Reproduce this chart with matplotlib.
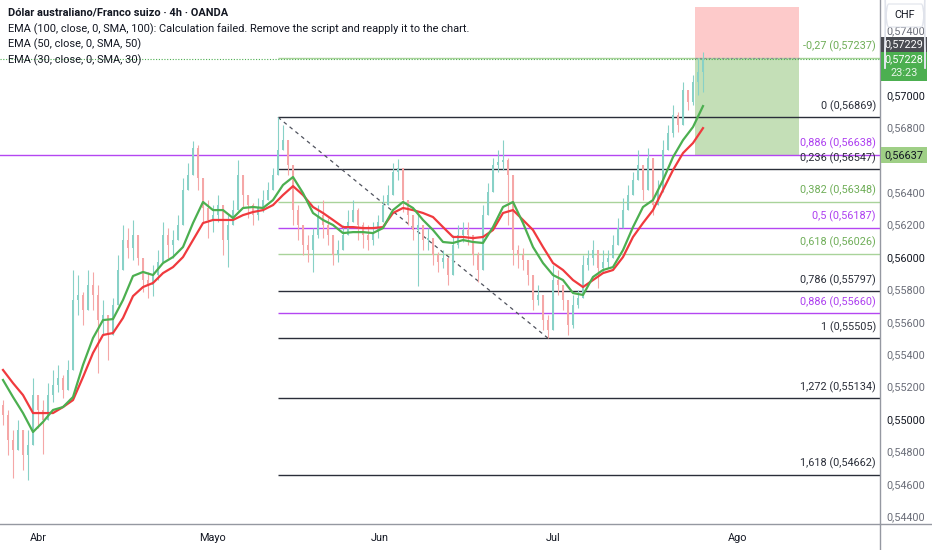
import numpy as np
import matplotlib
matplotlib.use("Agg")
import matplotlib.pyplot as plt
from matplotlib.patches import Rectangle, FancyBboxPatch

plt.rcParams["font.family"] = ["Roboto", "DejaVu Sans"]

# ----------------------------------------------------------------------
# data: AUD/CHF 4h (одна свеча ~ полдня)
# ----------------------------------------------------------------------
first_open = 0.55093
close = [
    0.55031, 0.54877, 0.54815, 0.54938, 0.54784, 0.54846, 0.55154, 0.55062, 0.55000, 0.55154,
    0.55216, 0.55259, 0.55185, 0.55309, 0.55741, 0.55772, 0.55679, 0.55833, 0.55772, 0.55617,
    0.55648, 0.55525, 0.55710, 0.55926, 0.56111, 0.56062, 0.56142, 0.56000, 0.55864, 0.55833,
    0.55895, 0.55975, 0.56142, 0.56080, 0.56111, 0.56204, 0.56420, 0.56512, 0.56679, 0.56494,
    0.56309, 0.56235, 0.56265, 0.56327, 0.56111, 0.56204, 0.56296, 0.56512, 0.56389, 0.56327,
    0.56265, 0.56309, 0.56358, 0.56420, 0.56512, 0.56667, 0.56728, 0.56574, 0.56296, 0.56204,
    0.56080, 0.56049, 0.56142, 0.56265, 0.56204, 0.56142, 0.56019, 0.56049, 0.56142, 0.56222,
    0.56296, 0.56204, 0.56142, 0.56111, 0.56160, 0.56222, 0.56327, 0.56389, 0.56531, 0.56556,
    0.56358, 0.56265, 0.56173, 0.56204, 0.56111, 0.56123, 0.56019, 0.55975, 0.56000, 0.55895,
    0.56080, 0.56142, 0.56173, 0.56142, 0.56019, 0.55926, 0.56265, 0.56407, 0.56574, 0.56593,
    0.56605, 0.56512, 0.56049, 0.56019, 0.55988, 0.55895, 0.55741, 0.55772, 0.55617, 0.55556,
    0.55864, 0.55833, 0.55741, 0.55586, 0.55710, 0.55753, 0.55957, 0.56000, 0.56049, 0.55938,
    0.55975, 0.56000, 0.56080, 0.56185, 0.56296, 0.56389, 0.56481, 0.56574, 0.56420, 0.56617,
    0.56327, 0.56407, 0.56667, 0.56772, 0.56883, 0.56821, 0.57037, 0.56963, 0.57086, 0.57148,
    0.57228,
]
high = [
    0.55123, 0.55062, 0.54938, 0.55000, 0.54895, 0.54938, 0.55259, 0.55154, 0.55123, 0.55228,
    0.55309, 0.55340, 0.55278, 0.55370, 0.55926, 0.55895, 0.55790, 0.55926, 0.55914, 0.55833,
    0.55741, 0.55648, 0.55753, 0.56019, 0.56204, 0.56185, 0.56235, 0.56080, 0.55975, 0.55914,
    0.55957, 0.56049, 0.56222, 0.56185, 0.56173, 0.56265, 0.56494, 0.56586, 0.56722, 0.56698,
    0.56420, 0.56358, 0.56327, 0.56389, 0.56247, 0.56265, 0.56358, 0.56605, 0.56500, 0.56389,
    0.56340, 0.56370, 0.56420, 0.56469, 0.56556, 0.56869, 0.56821, 0.56716, 0.56481, 0.56327,
    0.56173, 0.56142, 0.56185, 0.56327, 0.56358, 0.56247, 0.56111, 0.56111, 0.56204, 0.56296,
    0.56358, 0.56309, 0.56222, 0.56204, 0.56222, 0.56265, 0.56389, 0.56451, 0.56586, 0.56611,
    0.56512, 0.56358, 0.56247, 0.56265, 0.56204, 0.56185, 0.56111, 0.56037, 0.56049, 0.56000,
    0.56142, 0.56204, 0.56222, 0.56222, 0.56123, 0.56037, 0.56327, 0.56463, 0.56617, 0.56667,
    0.56728, 0.56617, 0.56235, 0.56080, 0.56062, 0.55988, 0.55833, 0.55833, 0.55710, 0.55648,
    0.55957, 0.55926, 0.55833, 0.55691, 0.55772, 0.55802, 0.56019, 0.56049, 0.56111, 0.56037,
    0.56049, 0.56049, 0.56142, 0.56247, 0.56370, 0.56451, 0.56531, 0.56667, 0.56531, 0.56679,
    0.56512, 0.56481, 0.56728, 0.56821, 0.56944, 0.56901, 0.57086, 0.57025, 0.57130, 0.57235,
    0.57272,
]
low = [
    0.54969, 0.54784, 0.54642, 0.54815, 0.54691, 0.54630, 0.54846, 0.54951, 0.54790, 0.55031,
    0.55111, 0.55173, 0.55136, 0.55216, 0.55494, 0.55648, 0.55586, 0.55710, 0.55679, 0.55290,
    0.55525, 0.55370, 0.55605, 0.55741, 0.56019, 0.56000, 0.55988, 0.55957, 0.55790, 0.55753,
    0.55765, 0.55864, 0.56019, 0.56000, 0.56000, 0.56111, 0.56204, 0.56420, 0.56556, 0.56420,
    0.56222, 0.56123, 0.56160, 0.56222, 0.56019, 0.55944, 0.56222, 0.56358, 0.56309, 0.56247,
    0.56204, 0.56235, 0.56284, 0.56358, 0.56420, 0.56543, 0.56667, 0.56512, 0.56204, 0.56111,
    0.56019, 0.55975, 0.55914, 0.56123, 0.56123, 0.56080, 0.55957, 0.55975, 0.56062, 0.56142,
    0.56222, 0.56111, 0.56062, 0.56049, 0.56080, 0.56123, 0.56235, 0.56327, 0.56469, 0.56481,
    0.56284, 0.56204, 0.56111, 0.55827, 0.56049, 0.56049, 0.55957, 0.55914, 0.55938, 0.55833,
    0.55988, 0.56062, 0.56099, 0.56080, 0.55957, 0.55852, 0.56000, 0.56309, 0.56494, 0.56531,
    0.56543, 0.56204, 0.55957, 0.55938, 0.55926, 0.55833, 0.55679, 0.55710, 0.55556, 0.55505,
    0.55586, 0.55772, 0.55679, 0.55525, 0.55568, 0.55691, 0.55753, 0.55926, 0.55957, 0.55815,
    0.55914, 0.55938, 0.56000, 0.56099, 0.56222, 0.56309, 0.56407, 0.56494, 0.56358, 0.56543,
    0.56265, 0.56346, 0.56543, 0.56716, 0.56747, 0.56778, 0.56883, 0.56914, 0.56944, 0.57006,
    0.57025,
]

# EMA, по каждой второй свече
ema50 = [
    0.55309, 0.55228, 0.55154, 0.55043, 0.55043, 0.55043, 0.55080, 0.55123, 0.55265, 0.55414,
    0.55525, 0.55537, 0.55630, 0.55765, 0.55821, 0.55846, 0.55907, 0.55944, 0.56006, 0.56111,
    0.56216, 0.56235, 0.56235, 0.56235, 0.56265, 0.56284, 0.56296, 0.56327, 0.56389, 0.56444,
    0.56389, 0.56315, 0.56278, 0.56235, 0.56191, 0.56191, 0.56185, 0.56185, 0.56191, 0.56278,
    0.56309, 0.56296, 0.56278, 0.56253, 0.56191, 0.56130, 0.56130, 0.56123, 0.56130, 0.56173,
    0.56278, 0.56296, 0.56235, 0.56173, 0.56068, 0.55969, 0.55926, 0.55864, 0.55821, 0.55864,
    0.55907, 0.55926, 0.56006, 0.56130, 0.56216, 0.56296, 0.56420, 0.56543, 0.56648, 0.56710,
    0.56802,
]
ema30 = [
    0.55247, 0.55142, 0.55043, 0.54926, 0.54988, 0.55062, 0.55080, 0.55142, 0.55340, 0.55506,
    0.55617, 0.55623, 0.55741, 0.55889, 0.55914, 0.55895, 0.55969, 0.56006, 0.56068, 0.56216,
    0.56346, 0.56296, 0.56296, 0.56247, 0.56309, 0.56315, 0.56309, 0.56358, 0.56451, 0.56500,
    0.56401, 0.56278, 0.56235, 0.56204, 0.56154, 0.56160, 0.56160, 0.56154, 0.56185, 0.56296,
    0.56346, 0.56309, 0.56235, 0.56173, 0.56099, 0.56093, 0.56111, 0.56099, 0.56093, 0.56191,
    0.56315, 0.56346, 0.56216, 0.56068, 0.55969, 0.55895, 0.55864, 0.55784, 0.55772, 0.55883,
    0.55926, 0.55944, 0.56049, 0.56191, 0.56315, 0.56358, 0.56481, 0.56623, 0.56728, 0.56809,
    0.56938,
]

month_labels = ["Abr", "Mayo", "Jun", "Jul", "Ago"]
month_pos = [7, 41.8, 75.4, 110, 147]

fib_ratio = ["-0,27", "0", "0,236", "0,382", "0,5", "0,618", "0,786", "0,886", "1", "1,272", "1,618"]
fib_price = [0.57237, 0.56869, 0.56547, 0.56348, 0.56187, 0.56026, 0.55797, 0.55660, 0.55505, 0.55134, 0.54662]
fib_kind = ["g", "k", "k", "g", "p", "g", "k", "p", "k", "k", "k"]
fib_start = 55           # свеча с максимумом 0,56869
fib_end = 109            # свеча с минимумом 0,55505

hline_price = 0.56637
hline_ratio = "0,886"
hline_fib = 0.56638
last_price = 0.57228
ask_price = 0.57229
countdown = "23:23"
pos_x = (138.4, 159.2)
pos_stop, pos_entry, pos_target = 0.57549, 0.57237, 0.56637

# 0,57200 и 0,56600 закрыты метками цены
ticks = [0.544, 0.546, 0.548, 0.550, 0.552, 0.554, 0.556, 0.558, 0.560,
         0.562, 0.564, 0.568, 0.570, 0.574]

# ----------------------------------------------------------------------
# style
# ----------------------------------------------------------------------
UP, DOWN = "#88d1c7", "#f5a7a7"
FIBC = {"k": "#2a2e39", "g": "#a9d39a", "p": "#b446f2"}
FIBT = {"k": "#2a2e39", "g": "#6fae58", "p": "#ad3ff0"}
TXT = "#131722"
GRAY = "#6a6d78"
FS = 7.8
Y0, Y1 = 0.54358, 0.57593
X0, X1 = -0.6, 175.4
W, H = 932, 550
PANE_W, PANE_H = 880, 524
U = (Y1 - Y0) / PANE_H   # цена одного пикселя

fig = plt.figure(figsize=(W / 100, H / 100), dpi=100)
ax = fig.add_axes([0, (H - PANE_H) / H, PANE_W / W, PANE_H / H])
ax.set_xlim(X0, X1)
ax.set_ylim(Y0, Y1)
ax.set_xticks([])
ax.set_yticks([])
for s in ("top", "left", "bottom"):
    ax.spines[s].set_visible(False)
ax.spines["right"].set_color("#9598a1")
ax.spines["right"].set_linewidth(1)

# candles
c = np.array(close)
o = np.concatenate([[first_open], c[:-1]])
h = np.maximum(np.array(high), np.maximum(o, c))
l = np.minimum(np.array(low), np.minimum(o, c))
idx = np.arange(len(c))
col = np.where(c >= o, UP, DOWN)
ax.vlines(idx, l, h, colors=col, lw=0.8, zorder=3)
ax.bar(idx, np.maximum(np.abs(c - o), 0.00004), bottom=np.minimum(o, c),
       width=0.55, color=col, lw=0, zorder=3)

# EMA
ex = idx[::2]
ax.plot(ex, ema50, color="#f03a3e", lw=1.6, zorder=4, solid_joinstyle="round")
ax.plot(ex, ema30, color="#4caf50", lw=1.6, zorder=4, solid_joinstyle="round")

# fib levels
for r, p, k in zip(fib_ratio, fib_price, fib_kind):
    ax.hlines(p, fib_start, X1, color=FIBC[k], lw=1.0, zorder=2)
    ax.annotate(f"{r} ({p:.5f})".replace(".", ","), xy=(174.6, p), xytext=(0, 8),
                textcoords="offset points", ha="right", va="center",
                fontsize=FS, color=FIBT[k], zorder=5)

# full-width horizontal line + its label
ax.axhline(hline_price, color="#b446f2", lw=1.0, zorder=2)
ax.annotate(f"{hline_ratio} ({hline_fib:.5f})".replace(".", ","), xy=(174.6, hline_price),
            xytext=(0, 8), textcoords="offset points", ha="right", va="center",
            fontsize=FS, color=FIBT["p"], zorder=5)

# diagonal of the fib
ax.plot([fib_start, fib_end], [fib_price[1], fib_price[8]], color="#50535e",
        lw=0.9, ls=(0, (3, 3)), zorder=2)

# current price dotted line
ax.axhline(last_price, color="#4caf50", lw=0.8, ls=(0, (1, 1.5)), zorder=2)

# short position box
ax.add_patch(Rectangle((pos_x[0], pos_entry), pos_x[1] - pos_x[0], pos_stop - pos_entry,
                       fc="#fdcaca", ec="none", zorder=1))
ax.add_patch(Rectangle((pos_x[0], pos_target), pos_x[1] - pos_x[0], pos_entry - pos_target,
                       fc="#c4dfb7", ec="none", zorder=1))
ax.hlines(pos_entry, pos_x[0], pos_x[1], color="#8a8d96", lw=0.8, ls=(0, (2, 2)), zorder=2)

# ----------------------------------------------------------------------
# price axis
# ----------------------------------------------------------------------
yt = ax.get_yaxis_transform()
for t in ticks:
    dark = abs(t * 100 - round(t * 100)) < 1e-6
    ax.text(1.0068, t, f"{t:.5f}".replace(".", ","), transform=yt, ha="left", va="center",
            fontsize=FS, color=TXT if dark else GRAY, clip_on=False, zorder=6)

bx0, bw = 881 / PANE_W, 46 / PANE_W


def tag(y_top, hgt, fc):
    ax.add_patch(Rectangle((bx0, y_top - hgt * U), bw, hgt * U, transform=yt,
                           fc=fc, ec="none", clip_on=False, zorder=7))


tag(hline_price + 8 * U, 16, "#9fcf86")
ax.text(bx0 + bw / 2, hline_price, f"{hline_price:.5f}".replace(".", ","), transform=yt,
        ha="center", va="center", fontsize=FS, color=TXT, clip_on=False, zorder=8)

tag(last_price + 7 * U, 29, "#4caf50")
ax.text(bx0 + bw / 2, last_price, f"{last_price:.5f}".replace(".", ","), transform=yt,
        ha="center", va="center", fontsize=FS, color="white", clip_on=False, zorder=8)
ax.text(bx0 + bw / 2, last_price - 14 * U, countdown, transform=yt,
        ha="center", va="center", fontsize=FS, color="#e8f5e9", clip_on=False, zorder=8)

tag(last_price + 22 * U, 15, "#4a4c52")
ax.text(bx0 + bw / 2, last_price + 14.5 * U, f"{ask_price:.5f}".replace(".", ","), transform=yt,
        ha="center", va="center", fontsize=FS, color="white", clip_on=False, zorder=8)

chf = FancyBboxPatch((885 / PANE_W, Y1 - 27 * U), 40 / PANE_W, 23 * U,
                     boxstyle="round,pad=0,rounding_size=0.004", transform=yt,
                     fc="white", ec="#e0e3eb", lw=0.8, clip_on=False, zorder=7)
ax.add_patch(chf)
ax.text(905 / PANE_W, Y1 - 15.5 * U, "CHF", transform=yt, ha="center", va="center",
        fontsize=FS, color=TXT, clip_on=False, zorder=8)

# time axis
xt = ax.get_xaxis_transform()
for m, x in zip(month_labels, month_pos):
    ax.text(x, -14 / PANE_H, m, transform=xt, ha="center", va="center",
            fontsize=FS, color=TXT, clip_on=False)

fig.add_artist(plt.Line2D([0, 1], [(H - PANE_H) / H] * 2, color="#9598a1", lw=1,
                          transform=fig.transFigure))
fig.add_artist(plt.Line2D([PANE_W / W] * 2, [0, (H - PANE_H) / H], color="#9598a1", lw=1,
                          transform=fig.transFigure))

# legend
fig.text(8 / W, 1 - 12 / H, "Dólar australiano/Franco suizo · 4h · OANDA", fontsize=7.9,
         weight="bold", color=TXT, va="center")
legend = [
    "EMA (100, close, 0, SMA, 100): Calculation failed. Remove the script and reapply it to the chart.",
    "EMA (50, close, 0, SMA, 50)",
    "EMA (30, close, 0, SMA, 30)",
]
for i, s in enumerate(legend):
    fig.text(8 / W, 1 - (29 + 15.5 * i) / H, s, fontsize=7.9, color=TXT, va="center")

fig.savefig("out.png", dpi=100)
